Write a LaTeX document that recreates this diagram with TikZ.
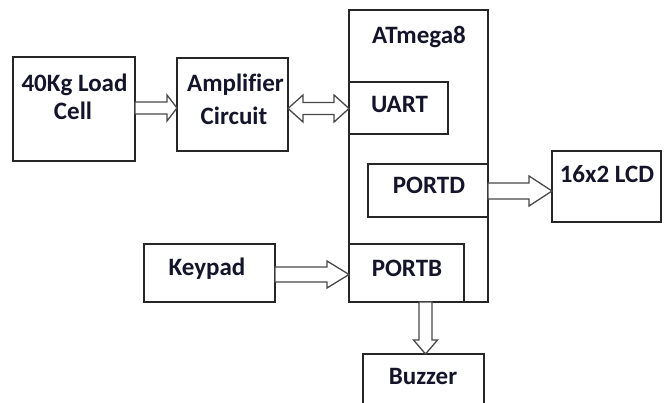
\documentclass[tikz,border=0pt]{standalone}
\usepackage{fontspec}
\setmainfont{Carlito}[Ligatures=NoCommon]
\usetikzlibrary{calc}
\definecolor{boxline}{HTML}{262626}
\definecolor{arrline}{HTML}{484848}
\definecolor{txtcol}{HTML}{14142A}
\tikzset{
  box/.style={draw=boxline, line width=1.6pt, rectangle, inner sep=0pt, outer sep=0pt},
  lbl/.style={anchor=base, inner sep=0pt, text=txtcol, font=\fontsize{25}{28}\selectfont\bfseries},
  blk/.style={draw=arrline, line width=1.3pt, fill=white, line join=miter}
}
% horizontal block arrow: from, to, y, shaft half, head half, head length
\newcommand\rblk[6]{%
  \draw[blk] let \p1=(#1.east), \p2=(#2.west) in
    (\x1,{-(#3-#4)*1pt}) -- ({\x2-#6pt},{-(#3-#4)*1pt}) -- ({\x2-#6pt},{-(#3-#5)*1pt})
    -- (\x2,{-#3*1pt}) -- ({\x2-#6pt},{-(#3+#5)*1pt}) -- ({\x2-#6pt},{-(#3+#4)*1pt})
    -- (\x1,{-(#3+#4)*1pt}) -- cycle;}
% double block arrow
\newcommand\lrblk[6]{%
  \draw[blk] let \p1=(#1.east), \p2=(#2.west) in
    (\x1,{-#3*1pt}) -- ({\x1+#6pt},{-(#3-#5)*1pt}) -- ({\x1+#6pt},{-(#3-#4)*1pt})
    -- ({\x2-#6pt},{-(#3-#4)*1pt}) -- ({\x2-#6pt},{-(#3-#5)*1pt})
    -- (\x2,{-#3*1pt}) -- ({\x2-#6pt},{-(#3+#5)*1pt}) -- ({\x2-#6pt},{-(#3+#4)*1pt})
    -- ({\x1+#6pt},{-(#3+#4)*1pt}) -- ({\x1+#6pt},{-(#3+#5)*1pt}) -- cycle;}
% vertical block arrow downward: from, to, x, shaft half, head half, head length
\newcommand\dblk[6]{%
  \draw[blk] let \p1=(#1.south), \p2=(#2.north) in
    ({(#3-#4)*1pt},\y1) -- ({(#3-#4)*1pt},{\y2+#6pt}) -- ({(#3-#5)*1pt},{\y2+#6pt})
    -- ({#3*1pt},\y2) -- ({(#3+#5)*1pt},{\y2+#6pt}) -- ({(#3+#4)*1pt},{\y2+#6pt})
    -- ({(#3+#4)*1pt},\y1) -- cycle;}
\begin{document}
\begin{tikzpicture}[x=1pt,y=-1pt]
\useasboundingbox (0,0) rectangle (664,403);
\clip (0,0) rectangle (664,403);
% boxes
\node[box, minimum width=122pt, minimum height=104pt] (load) at (74,109) {};
\node[box, minimum width=111pt, minimum height=93pt] (amp) at (232.5,104.5) {};
\node[box, minimum width=139pt, minimum height=292pt] (mcu) at (418.5,156) {};
\node[box, minimum width=99pt, minimum height=52pt] (uart) at (398.5,108) {};
\node[box, minimum width=120pt, minimum height=53pt] (portd) at (428,190.5) {};
\node[box, minimum width=109pt, minimum height=71pt] (lcd) at (606.5,186.5) {};
\node[box, minimum width=115pt, minimum height=58pt] (portb) at (406.5,273) {};
\node[box, minimum width=131pt, minimum height=58pt] (keypad) at (209.5,273) {};
\node[box, minimum width=121pt, minimum height=66pt] (buzzer) at (423.5,387) {};
% labels
\node[lbl] (t1) at (74.5,92) {40Kg Load};
\node[lbl] (t2) at (73,120) {Cell};
\node[lbl] (t3) at (235.5,92) {Amplifier};
\node[lbl] (t4) at (234,125) {Circuit};
\node[lbl] (t5) at (419,44) {ATmega8};
\node[lbl] (t6) at (399.5,113) {UART};
\node[lbl] (t7) at (429,194) {PORTD};
\node[lbl] (t8) at (607,183) {16x2 LCD};
\node[lbl] (t9) at (407,277) {PORTB};
\node[lbl] (t10) at (207,276) {Keypad};
\node[lbl] (t11) at (423,384) {Buzzer};
% arrows
\rblk{load}{amp}{108}{6}{13}{10}
\lrblk{amp}{uart}{108.5}{6}{13.5}{15}
\rblk{portd}{lcd}{191}{8}{15}{23}
\rblk{keypad}{portb}{274.5}{7.5}{13.5}{22}
\dblk{portb}{buzzer}{425.5}{6.5}{12}{14}
\end{tikzpicture}
\end{document}
